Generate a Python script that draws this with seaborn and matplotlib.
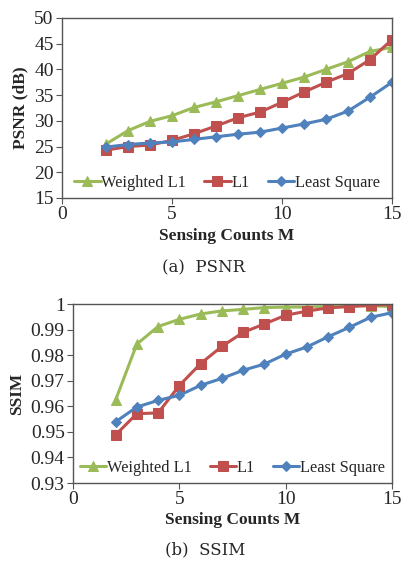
import numpy as np
import pandas as pd
import seaborn as sns
import matplotlib
matplotlib.use("Agg")
import matplotlib.pyplot as plt

M = list(range(2, 16))
series_names = ["Weighted L1", "L1", "Least Square"]

psnr_weighted = [25.5, 28.1, 29.9, 31.0, 32.6, 33.7, 34.9, 36.1, 37.3, 38.5, 40.0, 41.5, 43.5, 44.3]
psnr_l1 = [24.3, 25.0, 25.3, 26.2, 27.5, 29.0, 30.6, 31.7, 33.6, 35.6, 37.5, 39.2, 41.9, 45.8]
psnr_ls = [24.9, 25.4, 25.7, 25.9, 26.4, 26.9, 27.4, 27.8, 28.6, 29.4, 30.3, 31.9, 34.6, 37.5]

ssim_weighted = [0.9624, 0.9843, 0.9912, 0.9940, 0.9961, 0.9973, 0.9979, 0.9986, 0.9988, 0.9988, 0.9990, 0.9992, 0.9993, 0.9990]
ssim_l1 = [0.9488, 0.9571, 0.9574, 0.9681, 0.9767, 0.9834, 0.9889, 0.9922, 0.9956, 0.9972, 0.9985, 0.9990, 0.9995, 0.9998]
ssim_ls = [0.9539, 0.9597, 0.9623, 0.9643, 0.9682, 0.9709, 0.9741, 0.9765, 0.9804, 0.9832, 0.9872, 0.9909, 0.9948, 0.9966]

psnr_ticks = [15, 20, 25, 30, 35, 40, 45, 50]
ssim_ticks = [0.93, 0.94, 0.95, 0.96, 0.97, 0.98, 0.99, 1.0]
ssim_ticklabels = ["0.93", "0.94", "0.95", "0.96", "0.97", "0.98", "0.99", "1"]
x_ticks = [0, 5, 10, 15]

colors = {"Weighted L1": "#9BBB59", "L1": "#C0504D", "Least Square": "#4F81BD"}
markers = {"Weighted L1": "^", "L1": "s", "Least Square": "D"}

def long_df(vals):
    rows = []
    for name, v in zip(series_names, vals):
        for m, y in zip(M, v):
            rows.append({"M": m, "value": y, "method": name})
    return pd.DataFrame(rows)

df_psnr = long_df([psnr_weighted, psnr_l1, psnr_ls])
df_ssim = long_df([ssim_weighted, ssim_l1, ssim_ls])

sns.set_style("ticks")
serif = ["Liberation Serif", "DejaVu Serif"]
plt.rcParams["font.family"] = serif

fig = plt.figure(figsize=(4.01, 5.62), dpi=100)
ax1 = fig.add_axes([62/401, 1-198/562, (392-62)/401, 180/562])
ax2 = fig.add_axes([73/401, 1-483/562, (392-73)/401, 179/562])

def draw(ax, df, ylim, yticks, yticklabels, ylabel):
    for name in series_names:
        sub = df[df["method"] == name]
        sns.lineplot(data=sub, x="M", y="value", ax=ax, color=colors[name],
                     marker=markers[name], markersize=6.5 if name != "Least Square" else 5.5,
                     markeredgecolor=colors[name], linewidth=2.2, label=name)
    ax.set_xlim(0, 15)
    ax.set_ylim(*ylim)
    ax.set_xticks(x_ticks)
    ax.set_xticklabels([str(t) for t in x_ticks], fontsize=14)
    ax.set_yticks(yticks)
    ax.set_yticklabels(yticklabels, fontsize=14)
    ax.set_xlabel("Sensing Counts M", fontsize=12.5, fontweight="bold", labelpad=3)
    ax.set_ylabel(ylabel, fontsize=12.5, fontweight="bold", labelpad=4)
    for s in ax.spines.values():
        s.set_color("#555555")
        s.set_linewidth(1.0)
    ax.tick_params(axis="both", direction="out", length=4, color="#555555", pad=2)
    ax.legend(loc="lower center", ncol=3, frameon=False, fontsize=11.8,
              handlelength=1.6, handletextpad=0.05, columnspacing=1.1,
              borderaxespad=0.05, bbox_to_anchor=(0.5, 0.0))

draw(ax1, df_psnr, (15, 50), psnr_ticks, [str(t) for t in psnr_ticks], "PSNR (dB)")
draw(ax2, df_ssim, (0.93, 1.0), ssim_ticks, ssim_ticklabels, "SSIM")

fig.text(204/401, 1-268/562, "(a)  PSNR", ha="center", va="center", fontsize=12, family="DejaVu Serif")
fig.text(205/401, 1-550/562, "(b)  SSIM", ha="center", va="center", fontsize=12, family="DejaVu Serif")

fig.savefig("out.png", dpi=100)
